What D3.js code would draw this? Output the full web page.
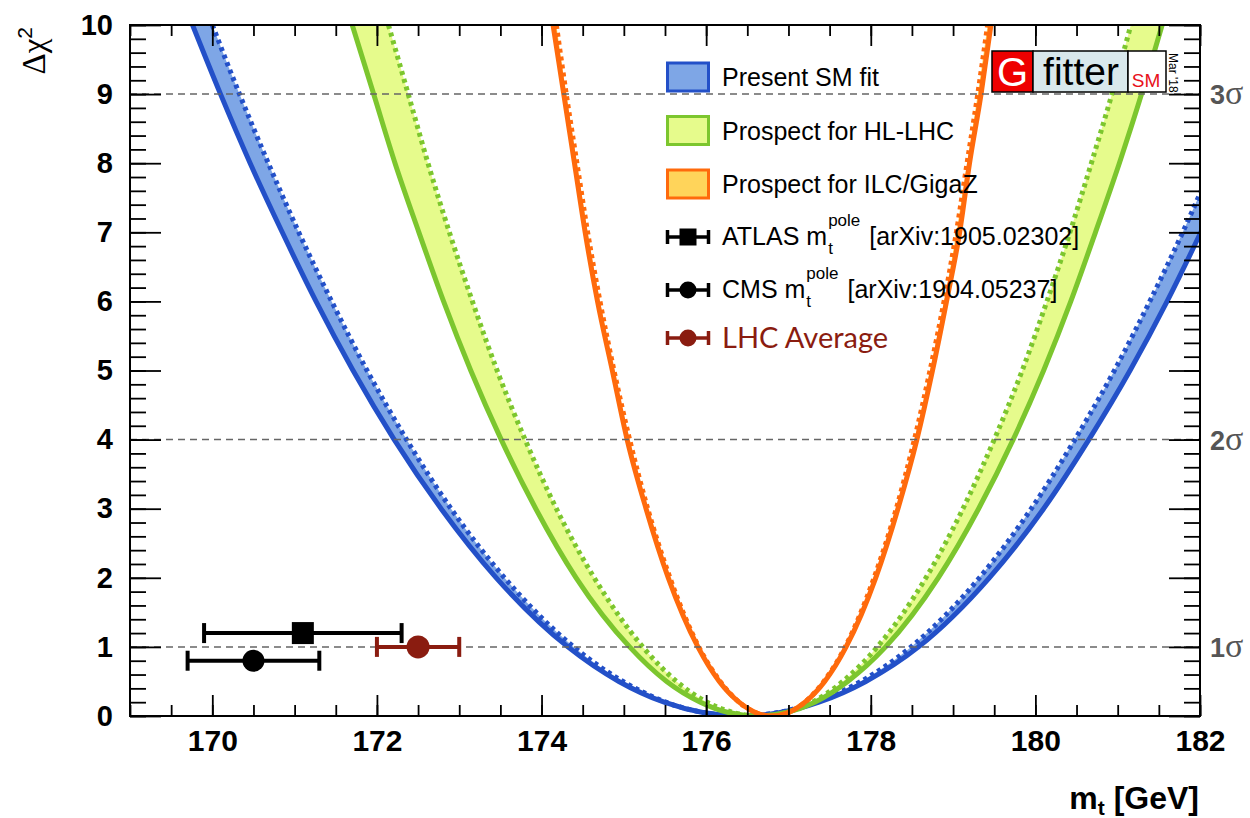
<!DOCTYPE html>
<html><head><meta charset="utf-8">
<script src="https://cdn.jsdelivr.net/npm/d3@7"></script>
<style>body{margin:0;background:#fff}svg{display:block}</style>
</head><body>
<svg id="c" width="1250" height="818"></svg>
<script>
// ---------- data ----------
const chi2Levels = [10, 9, 8, 7, 6, 5, 4, 3, 2, 1, 0.5, 0.2, 0.05, 0, 0.05, 0.2, 0.5, 1, 2, 3, 4, 5, 6, 7, 8, 9, 10];

const smSolidM = [169.76, 170.10, 170.46, 170.85, 171.26, 171.71, 172.21, 172.78, 173.45, 174.32, 174.94, 175.49, 175.96, 176.43,
                  176.90, 177.37, 177.94, 178.58, 179.44, 180.10, 180.65, 181.15, 181.60, 182.01, 182.40, 182.76, 183.10];
const smDottedM = [170.00, 170.33, 170.68, 171.05, 171.45, 171.88, 172.36, 172.90, 173.55, 174.39, 174.99, 175.51, 175.97, 176.42,
                   176.87, 177.33, 177.88, 178.49, 179.32, 179.95, 180.48, 180.96, 181.39, 181.79, 182.16, 182.51, 182.84];

const hlSolidM = [171.70, 171.96, 172.22, 172.51, 172.81, 173.14, 173.51, 173.93, 174.42, 175.07, 175.52, 175.93, 176.27, 176.62,
                  176.97, 177.32, 177.72, 178.18, 178.82, 179.31, 179.73, 180.10, 180.43, 180.73, 181.02, 181.29, 181.54];
const hlDottedM = [172.14, 172.38, 172.62, 172.88, 173.16, 173.46, 173.80, 174.18, 174.64, 175.23, 175.64, 176.01, 176.33, 176.65,
                   176.97, 177.29, 177.66, 178.08, 178.67, 179.12, 179.50, 179.84, 180.14, 180.42, 180.68, 180.93, 181.16];

const ilcSolidM = [174.14, 174.27, 174.40, 174.53, 174.68, 174.86, 175.04, 175.27, 175.54, 175.90, 176.16, 176.40, 176.60, 176.80,
                   177.00, 177.20, 177.44, 177.70, 178.06, 178.33, 178.56, 178.75, 178.92, 179.08, 179.20, 179.34, 179.46];
const ilcDottedM = [174.18, 174.30, 174.43, 174.56, 174.71, 174.88, 175.07, 175.29, 175.56, 175.91, 176.17, 176.40, 176.60, 176.80,
                    177.00, 177.20, 177.43, 177.69, 178.04, 178.31, 178.53, 178.72, 178.89, 179.04, 179.17, 179.30, 179.42];

const bandNames = ["Present SM fit", "Prospect for HL-LHC", "Prospect for ILC/GigaZ"];

const measLabels = ["ATLAS", "CMS", "LHC Average"];
const measRefs = ["[arXiv:1905.02302]", "[arXiv:1904.05237]", ""];
const measCentral = [171.1, 170.5, 172.5];
const measError = [1.2, 0.8, 0.5];
const measChi2 = [1.2, 0.8, 1.0];

const xMajorTicks = [170, 172, 174, 176, 178, 180, 182];
const yMajorTicks = [0, 1, 2, 3, 4, 5, 6, 7, 8, 9, 10];
const sigmaLevels = [1, 4, 9];
const sigmaLabels = ["1", "2", "3"];

// ---------- layout ----------
const L = 130, R = 1200, T = 25, B = 716;
const svg = d3.select("#c");
const x = d3.scaleLinear().domain([169, 182]).range([L, R]);
const y = d3.scaleLinear().domain([0, 10]).range([B, T]);

const SANS = "'Liberation Sans', Arial, Helvetica, sans-serif";
const SERIF = "'Liberation Serif', 'Times New Roman', serif";

const colors = {
  smLine: "#2350c8", smFill: "#7ea6e6",
  hlLine: "#7cc62e", hlFill: "#e6fb8c",
  ilcLine: "#ff6a0c", ilcFill: "#ffd45a",
  lhc: "#8a1c10"
};

svg.append("defs").append("clipPath").attr("id", "plotclip")
  .append("rect").attr("x", L).attr("y", T).attr("width", R - L).attr("height", B - T);

const pts = arr => arr.map((m, i) => [m, chi2Levels[i]]);
const line = d3.line().x(d => x(d[0])).y(d => y(d[1])).curve(d3.curveMonotoneX);
function bandPath(outer, inner) {
  const a = line(pts(outer));
  const b = line(pts(inner).reverse());
  return a + b.replace(/^M/, "L") + "Z";
}

const plot = svg.append("g").attr("clip-path", "url(#plotclip)");

const bands = [
  {outer: smSolidM, inner: smDottedM, line: colors.smLine, fill: colors.smFill},
  {outer: hlSolidM, inner: hlDottedM, line: colors.hlLine, fill: colors.hlFill},
  {outer: ilcSolidM, inner: ilcDottedM, line: colors.ilcLine, fill: colors.ilcFill}
];

bands.forEach(b => {
  plot.append("path").attr("d", bandPath(b.outer, b.inner)).attr("fill", b.fill).attr("stroke", "none");
});

// dashed sigma lines
svg.append("g").selectAll("line").data(sigmaLevels).join("line")
  .attr("x1", L).attr("x2", R).attr("y1", d => y(d)).attr("y2", d => y(d))
  .attr("stroke", "#666").attr("stroke-width", 1.5).attr("stroke-dasharray", "7,5");

bands.forEach(b => {
  plot.append("path").attr("d", line(pts(b.inner))).attr("fill", "none")
    .attr("stroke", b.line).attr("stroke-width", 5).attr("stroke-dasharray", "4,4");
  plot.append("path").attr("d", line(pts(b.outer))).attr("fill", "none")
    .attr("stroke", b.line).attr("stroke-width", 5);
});

// ---------- measurements ----------
const measColors = ["#000", "#000", colors.lhc];
measCentral.forEach((c, i) => {
  const g = svg.append("g").attr("stroke", measColors[i]).attr("fill", measColors[i]);
  const yy = y(measChi2[i]);
  g.append("line").attr("x1", x(c - measError[i])).attr("x2", x(c + measError[i]))
    .attr("y1", yy).attr("y2", yy).attr("stroke-width", 4);
  [c - measError[i], c + measError[i]].forEach(e => {
    g.append("line").attr("x1", x(e)).attr("x2", x(e)).attr("y1", yy - 10).attr("y2", yy + 10).attr("stroke-width", 4);
  });
  if (i === 0) {
    g.append("rect").attr("x", x(c) - 11).attr("y", yy - 11).attr("width", 22).attr("height", 22).attr("stroke", "none");
  } else {
    g.append("circle").attr("cx", x(c)).attr("cy", yy).attr("r", i === 2 ? 11.5 : 11).attr("stroke", "none");
  }
});

// ---------- axes ----------
const minorX = d3.range(169, 182.001, 0.5);
const minorY = d3.range(0, 10.001, 0.2);
function styleAxis(g) {
  g.selectAll("line").attr("stroke", "#000").attr("stroke-width", 1.8);
  g.select(".domain").remove();
}
svg.append("g").attr("transform", `translate(0,${B})`)
  .call(d3.axisBottom(x).tickValues(minorX).tickSize(-11).tickFormat(""))
  .call(styleAxis);
svg.append("g").attr("transform", `translate(0,${B})`)
  .call(d3.axisBottom(x).tickValues(xMajorTicks).tickSize(-21).tickPadding(14).tickFormat(d3.format("d")))
  .call(styleAxis)
  .call(g => g.selectAll("text").attr("font-family", SANS).attr("font-weight", "bold").attr("font-size", 30).attr("fill", "#000"));
svg.append("g").attr("transform", `translate(0,${T})`)
  .call(d3.axisTop(x).tickValues(minorX).tickSize(-11).tickFormat("")).call(styleAxis);
svg.append("g").attr("transform", `translate(0,${T})`)
  .call(d3.axisTop(x).tickValues(xMajorTicks).tickSize(-21).tickFormat("")).call(styleAxis);

svg.append("g").attr("transform", `translate(${L},0)`)
  .call(d3.axisLeft(y).tickValues(minorY).tickSize(-16).tickFormat("")).call(styleAxis);
svg.append("g").attr("transform", `translate(${L},0)`)
  .call(d3.axisLeft(y).tickValues(yMajorTicks).tickSize(-31).tickPadding(17).tickFormat(d3.format("d")))
  .call(styleAxis)
  .call(g => g.selectAll("text").attr("font-family", SANS).attr("font-weight", "bold").attr("font-size", 29).attr("fill", "#000"));
svg.append("g").attr("transform", `translate(${R},0)`)
  .call(d3.axisRight(y).tickValues(minorY).tickSize(-16).tickFormat("")).call(styleAxis);
svg.append("g").attr("transform", `translate(${R},0)`)
  .call(d3.axisRight(y).tickValues(yMajorTicks).tickSize(-31).tickFormat("")).call(styleAxis);

svg.append("rect").attr("x", L).attr("y", T).attr("width", R - L).attr("height", B - T)
  .attr("fill", "none").attr("stroke", "#000").attr("stroke-width", 2);

// sigma labels
sigmaLevels.forEach((s, i) => {
  const t = svg.append("text").attr("x", 1210).attr("y", y(s) + 10).attr("fill", "#555");
  t.append("tspan").attr("font-family", SANS).attr("font-weight", "bold").attr("font-size", 27).text(sigmaLabels[i]);
  t.append("tspan").attr("font-family", SERIF).attr("font-size", 34).text("σ");
});

// axis titles
const yt = svg.append("text").attr("transform", "translate(45,27) rotate(-90)")
  .attr("text-anchor", "end").attr("font-family", SERIF).attr("font-size", 33).attr("fill", "#000");
yt.append("tspan").text("Δχ");
yt.append("tspan").attr("dy", -13).attr("font-size", 21).attr("font-family", SANS).text("2");

const xt = svg.append("text").attr("x", 1199).attr("y", 809).attr("text-anchor", "end")
  .attr("font-family", SANS).attr("font-weight", "bold").attr("font-size", 32).attr("fill", "#000");
xt.append("tspan").text("m");
xt.append("tspan").attr("font-size", 21).attr("dy", 6).text("t");
xt.append("tspan").attr("dy", -6).text(" [GeV]");

// ---------- legend ----------
const legX = 666, legW = 44, legTextX = 722;
const rowY = [77, 130.5, 184, 237, 290, 338];
const leg = svg.append("g");
bands.forEach((b, i) => {
  leg.append("rect").attr("x", legX + 1.5).attr("y", rowY[i] - 14).attr("width", legW - 3).attr("height", 28)
    .attr("fill", b.fill).attr("stroke", b.line).attr("stroke-width", 3);
  leg.append("text").attr("x", legTextX).attr("y", rowY[i] + 9).attr("font-family", SANS).attr("font-size", 25)
    .attr("fill", "#000").text(bandNames[i]);
});
[0, 1, 2].forEach(i => {
  const cy = rowY[3 + i];
  const cx = legX + legW / 2;
  const g = leg.append("g").attr("stroke", measColors[i]).attr("fill", measColors[i]);
  g.append("line").attr("x1", legX + 1).attr("x2", legX + legW - 1).attr("y1", cy).attr("y2", cy).attr("stroke-width", 3.5);
  [legX + 1.5, legX + legW - 1.5].forEach(e => g.append("line").attr("x1", e).attr("x2", e).attr("y1", cy - 7).attr("y2", cy + 7).attr("stroke-width", 3.5));
  if (i === 0) g.append("rect").attr("x", cx - 8.5).attr("y", cy - 8.5).attr("width", 17).attr("height", 17).attr("stroke", "none");
  else g.append("circle").attr("cx", cx).attr("cy", cy).attr("r", 8.5).attr("stroke", "none");
  if (i < 2) {
    const base = cy + 8;
    const t1 = leg.append("text").attr("x", legTextX).attr("y", base).attr("font-family", SANS).attr("font-size", 25)
      .attr("fill", "#000").text(measLabels[i] + " m");
    const w = t1.node().getComputedTextLength();
    leg.append("text").attr("x", legTextX + w + 1).attr("y", base + 9).attr("font-family", SANS).attr("font-size", 17).attr("fill", "#000").text("t");
    const p = leg.append("text").attr("x", legTextX + w + 1).attr("y", base - 19).attr("font-family", SANS).attr("font-size", 17).attr("fill", "#000").text("pole");
    const pw = p.node().getComputedTextLength();
    leg.append("text").attr("x", legTextX + w + 1 + pw + 9).attr("y", base).attr("font-family", SANS).attr("font-size", 25)
      .attr("fill", "#000").text(measRefs[i]);
  } else {
    leg.append("text").attr("x", legTextX).attr("y", cy + 10).attr("font-family", "Lato, 'Open Sans', sans-serif").attr("font-size", 29)
      .attr("fill", colors.lhc).text(measLabels[i]);
  }
});

// ---------- Gfitter logo ----------
const logo = svg.append("g");
logo.append("rect").attr("x", 992).attr("y", 51).attr("width", 41).attr("height", 41).attr("fill", "#ee0000").attr("stroke", "#000").attr("stroke-width", 1.5);
logo.append("rect").attr("x", 1033).attr("y", 51).attr("width", 95).attr("height", 41).attr("fill", "#d9e8ec").attr("stroke", "#000").attr("stroke-width", 1.5);
logo.append("rect").attr("x", 1128).attr("y", 51).attr("width", 38).attr("height", 41).attr("fill", "#fff").attr("stroke", "#000").attr("stroke-width", 1.5);
logo.append("text").attr("x", 1012.5).attr("y", 86).attr("text-anchor", "middle").attr("font-family", SANS).attr("font-size", 40).attr("fill", "#fff").text("G");
logo.append("text").attr("x", 1081).attr("y", 85).attr("text-anchor", "middle").attr("font-family", SANS).attr("font-size", 39).attr("fill", "#000").text("fitter");
logo.append("text").attr("x", 1146).attr("y", 87).attr("text-anchor", "middle").attr("font-family", SANS).attr("font-size", 19).attr("fill", "#e8101a").text("SM");
logo.append("text").attr("transform", "translate(1169,53) rotate(90)").attr("font-family", SANS).attr("font-size", 12).attr("fill", "#000").text("Mar '18");
</script>
</body></html>
